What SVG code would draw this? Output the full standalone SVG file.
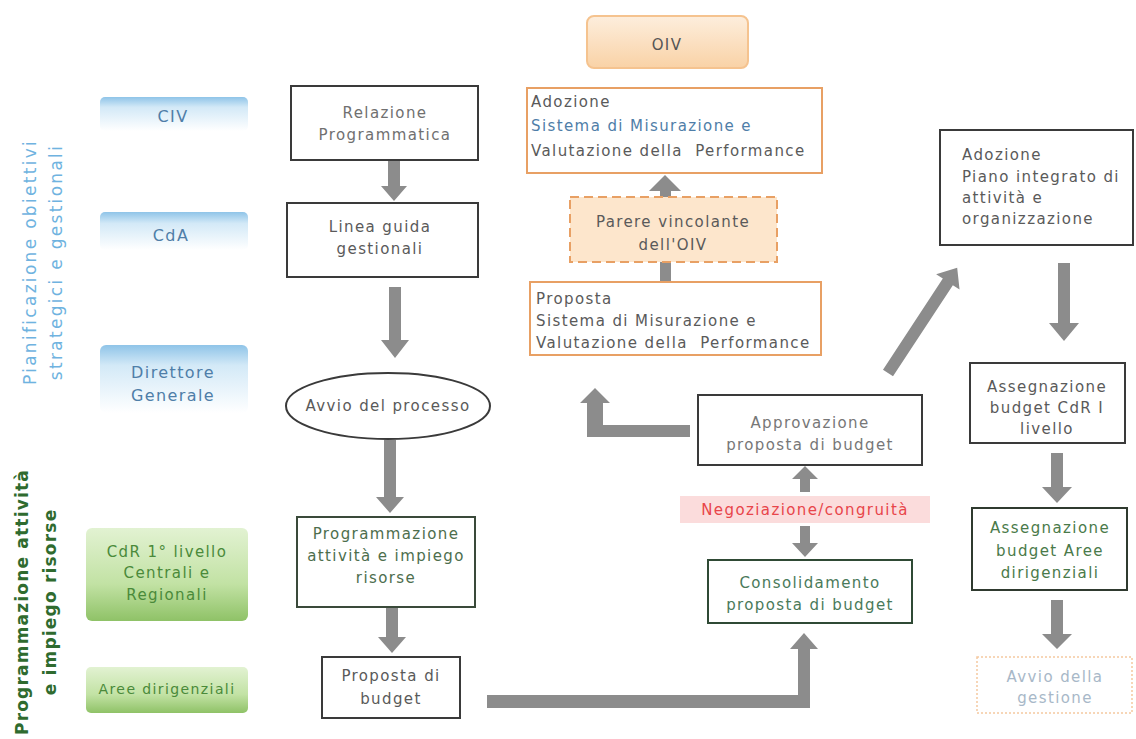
<svg xmlns="http://www.w3.org/2000/svg" width="1136" height="739" viewBox="0 0 1136 739">
<defs>
<linearGradient id="gBlue" x1="0" y1="0" x2="0" y2="1">
<stop offset="0" stop-color="#8fc4e8"/><stop offset="0.3" stop-color="#d3e9f7"/><stop offset="1" stop-color="#ffffff"/>
</linearGradient>
<linearGradient id="gGreen" x1="0" y1="0" x2="0" y2="1">
<stop offset="0" stop-color="#e2f2d2"/><stop offset="0.6" stop-color="#c2e2a4"/><stop offset="1" stop-color="#8fc267"/>
</linearGradient>
<linearGradient id="gOrange" x1="0" y1="0" x2="0" y2="1">
<stop offset="0" stop-color="#fdeedd"/><stop offset="1" stop-color="#f9d2a6"/>
</linearGradient>
<style>
text{font-family:"DejaVu Sans","Verdana",sans-serif;font-size:15px;letter-spacing:1.4px;fill:#5a5a5a}
.c{text-anchor:middle}
.box{fill:#ffffff;stroke:#3a3a3a;stroke-width:2}
.obox{fill:#ffffff;stroke:#e8a064;stroke-width:2}
.lblB{fill:url(#gBlue)}
.lblG{fill:url(#gGreen)}
.tB{fill:#4f7ea8;font-size:16px}
.tG{fill:#4a8a3a}
.arr{fill:#8c8c8c}
.vtB{fill:#6fb3e0;font-size:17px;letter-spacing:2.3px;text-anchor:middle}
.vtG{fill:#2f6b2f;font-size:17px;font-weight:bold;letter-spacing:1.2px;text-anchor:middle}
</style>
</defs>
<rect width="1136" height="739" fill="#ffffff"/>

<g id="side-labels">
<text class="vtB" transform="translate(36,262) rotate(-90)">Pianificazione obiettivi</text>
<text class="vtB" transform="translate(62,262) rotate(-90)">strategici e gestionali</text>
<text class="vtG" transform="translate(28,602) rotate(-90)">Programmazione attività</text>
<text class="vtG" transform="translate(56,602) rotate(-90)">e impiego risorse</text>
</g>

<g id="lbl-civ"><rect class="lblB" x="100" y="97" width="148" height="34" rx="5"/><text class="c tB" x="173" y="122">CIV</text></g>
<g id="lbl-cda"><rect class="lblB" x="100" y="212" width="148" height="38" rx="5"/><text class="c tB" x="171" y="241">CdA</text></g>
<g id="lbl-dg"><rect class="lblB" x="100" y="345" width="148" height="68" rx="6"/><text class="c tB" x="173" y="378">Direttore</text><text class="c tB" x="173" y="401">Generale</text></g>
<g id="lbl-cdr"><rect class="lblG" x="86" y="528" width="162" height="93" rx="6"/><text class="c tG" x="167" y="557">CdR 1° livello</text><text class="c tG" x="167" y="578">Centrali e</text><text class="c tG" x="167" y="600">Regionali</text></g>
<g id="lbl-aree"><rect class="lblG" x="86" y="667" width="162" height="46" rx="5"/><text class="c tG" x="167" y="694" style="font-size:14px">Aree dirigenziali</text></g>

<g id="connectors">
<polygon class="arr" points="388,160 400,160 400,186 407,186 394,201 381,186 388,186"/>
<polygon class="arr" points="389,287 401,287 401,340 409,340 395,358 381,340 389,340"/>
<polygon class="arr" points="384,440 396,440 396,497 404,497 390,513 376,497 384,497"/>
<polygon class="arr" points="386,607 398,607 398,637 406,637 392,653 378,637 386,637"/>
<polygon class="arr" points="487,695 798,695 798,649 790,649 804,633 818,649 810,649 810,708 487,708"/>
<polygon class="arr" points="690,425 690,437 587,437 587,403 580,403 595,388 610,403 603,403 603,425"/>
<polygon class="arr" points="660,283 671,283 671,262 660,262"/>
<polygon class="arr" points="660,197 671,197 671,191 681,191 665,175 649,191 660,191"/>
<polygon class="arr" points="800,492 810,492 810,479 818,479 805,466 792,479 800,479"/>
<polygon class="arr" points="800,526 810,526 810,543 818,543 805,557 792,543 800,543"/>
<polygon class="arr" transform="translate(888,373) rotate(33.3)" points="-6,0 6,0 6,-109 14,-109 0,-126 -14,-109 -6,-109"/>
<polygon class="arr" points="1058,263 1070,263 1070,323 1079,323 1064,341 1049,323 1058,323"/>
<polygon class="arr" points="1051,453 1063,453 1063,487 1072,487 1057,503 1042,487 1051,487"/>
<polygon class="arr" points="1051,600 1063,600 1063,634 1072,634 1057,649 1042,634 1051,634"/>
</g>

<g id="n-relazione"><rect class="box" x="291" y="86" width="187" height="74"/><text class="c" x="385" y="118" style="fill:#707070">Relazione</text><text class="c" x="385" y="140" style="fill:#707070">Programmatica</text></g>
<g id="n-linea"><rect class="box" x="287" y="203" width="191" height="74"/><text class="c" x="380" y="232">Linea guida</text><text class="c" x="380" y="254">gestionali</text></g>
<g id="n-avvio"><ellipse cx="388" cy="406" rx="102" ry="33" fill="#ffffff" stroke="#3a3a3a" stroke-width="2"/><text class="c" x="388" y="411">Avvio del processo</text></g>
<g id="n-programmazione"><rect class="box" x="297" y="517" width="178" height="90" style="stroke:#3a4a3a"/><text class="c" x="386" y="539" style="fill:#4d6e4d">Programmazione</text><text class="c" x="386" y="561" style="fill:#4d6e4d">attività e impiego</text><text class="c" x="386" y="583" style="fill:#4d6e4d">risorse</text></g>
<g id="n-proposta-budget"><rect class="box" x="322" y="657" width="138" height="61"/><text class="c" x="391" y="681">Proposta di</text><text class="c" x="391" y="704">budget</text></g>

<g id="n-oiv"><rect x="587" y="16" width="161" height="52" rx="7" fill="url(#gOrange)" stroke="#f5c38f" stroke-width="2"/><text class="c" x="667" y="50" style="fill:#555">OIV</text></g>
<g id="n-adozione-smvp"><rect class="obox" x="527" y="88" width="295" height="85"/><text x="531" y="107">Adozione</text><text x="531" y="131" style="fill:#4f7ea8">Sistema di Misurazione e</text><text x="531" y="156">Valutazione della&#160; Performance</text></g>
<g id="n-parere"><rect x="570" y="197" width="207" height="65" fill="#fde6cc" stroke="#e8a064" stroke-width="2" stroke-dasharray="9,5"/><text class="c" x="673" y="227">Parere vincolante</text><text class="c" x="673" y="250">dell'OIV</text></g>
<g id="n-proposta-smvp"><rect class="obox" x="530" y="282" width="291" height="73"/><text x="536" y="304">Proposta</text><text x="536" y="326">Sistema di Misurazione e</text><text x="536" y="348">Valutazione della&#160; Performance</text></g>

<g id="n-approvazione"><rect class="box" x="698" y="395" width="224" height="70"/><text class="c" x="810" y="428" style="fill:#777">Approvazione</text><text class="c" x="810" y="450" style="fill:#777">proposta di budget</text></g>
<g id="n-negoziazione"><rect x="680" y="496" width="250" height="27" fill="#fbdcdc"/><text class="c" x="805" y="515" style="fill:#e8454a">Negoziazione/congruità</text></g>
<g id="n-consolidamento"><rect class="box" x="708" y="560" width="204" height="63" style="stroke:#2f4a35"/><text class="c" x="810" y="588" style="fill:#4a7a5a">Consolidamento</text><text class="c" x="810" y="610" style="fill:#4a7a5a">proposta di budget</text></g>

<g id="n-adozione-piano"><rect class="box" x="940" y="130" width="193" height="115"/><text x="962" y="160">Adozione</text><text x="962" y="182">Piano integrato di</text><text x="962" y="203">attività e</text><text x="962" y="224">organizzazione</text></g>
<g id="n-assegnazione-cdr"><rect class="box" x="970" y="363" width="155" height="80"/><text class="c" x="1047" y="392">Assegnazione</text><text class="c" x="1047" y="413">budget CdR I</text><text class="c" x="1047" y="434">livello</text></g>
<g id="n-assegnazione-aree"><rect class="box" x="972" y="508" width="155" height="82" style="stroke:#2f3a2f"/><text class="c" x="1050" y="533" style="fill:#4a7a4a">Assegnazione</text><text class="c" x="1050" y="556" style="fill:#4a7a4a">budget Aree</text><text class="c" x="1050" y="578" style="fill:#4a7a4a">dirigenziali</text></g>
<g id="n-avvio-gestione"><rect x="977" y="657" width="155" height="56" fill="#ffffff" stroke="#f5c9a0" stroke-width="1.5" stroke-dasharray="2,2"/><text class="c" x="1055" y="682" style="fill:#a8b8c8">Avvio della</text><text class="c" x="1055" y="703" style="fill:#a8b8c8">gestione</text></g>
</svg>
